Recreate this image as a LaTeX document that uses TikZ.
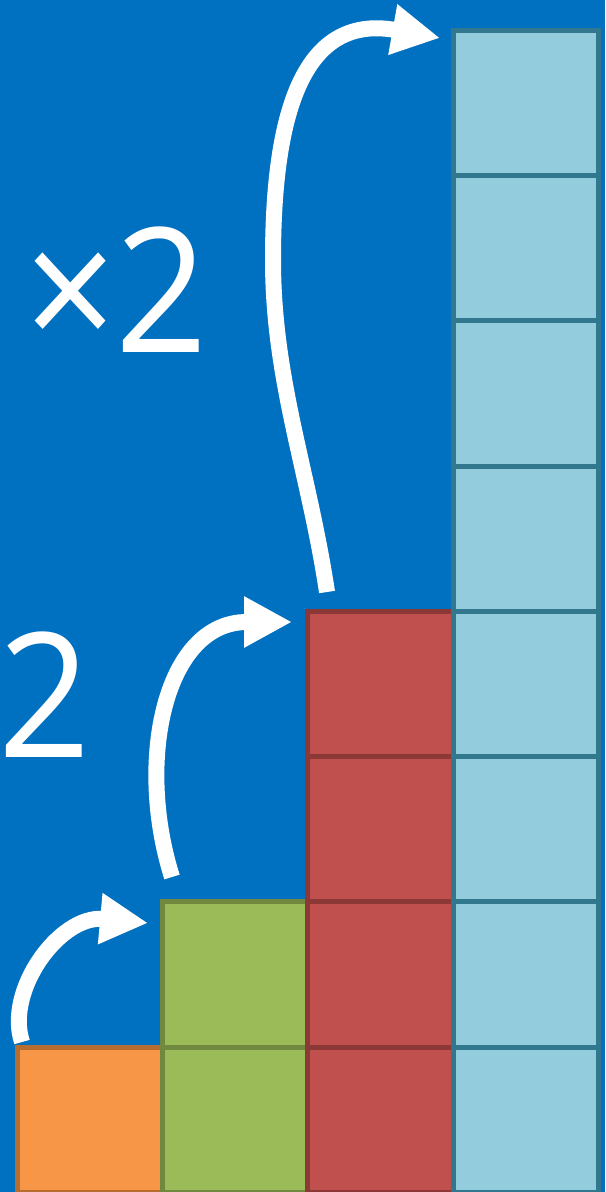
\documentclass[tikz,border=0pt]{standalone}
\usepackage{fontspec}
\setmainfont{Open Sans}
\newfontfamily\labelfont[FakeStretch=0.93]{Open Sans}
\usetikzlibrary{arrows.meta}
\definecolor{bgblue}{HTML}{0070C0}
\definecolor{orfill}{HTML}{F79646}
\definecolor{ordraw}{HTML}{B66D31}
\definecolor{grfill}{HTML}{9BBB59}
\definecolor{grdraw}{HTML}{71893F}
\definecolor{rdfill}{HTML}{C0504D}
\definecolor{rddraw}{HTML}{8C3836}
\definecolor{lbfill}{HTML}{93CDDD}
\definecolor{lbdraw}{HTML}{31788E}
\begin{document}
\begin{tikzpicture}[x=0.5pt,y=-0.5pt,
  sq/.style={draw, minimum size=72.6pt, inner sep=0pt, line width=2.5pt, outer sep=0pt},
  orsq/.style={sq, fill=orfill, draw=ordraw},
  grsq/.style={sq, fill=grfill, draw=grdraw},
  rdsq/.style={sq, fill=rdfill, draw=rddraw},
  lbsq/.style={sq, fill=lbfill, draw=lbdraw},
  bigarrow/.style={draw=white, line width=8pt, -{Triangle[length=24pt,width=24pt]}},
  txt/.style={text=white, inner sep=0pt, font=\labelfont\fontsize{86.8pt}{90pt}\selectfont}]
\useasboundingbox (0,0) rectangle (605,1192);
\clip (0,0) rectangle (605,1192);
\fill[bgblue] (0,0) rectangle (605,1192);
% squares
\node[orsq] (o0) at (90.1,1119.6) {};
\foreach \k in {0,1} {\node[grsq] (g\k) at (235.3,{1119.6-145.2*\k}) {};}
\foreach \k in {0,...,3} {\node[rdsq] (r\k) at (380.5,{1119.6-145.2*\k}) {};}
\foreach \k in {0,...,7} {\node[lbsq] (b\k) at (525.7,{1119.6-145.2*\k}) {};}
% arrows
\coordinate (a1s) at (22,1042);
\coordinate (a1e) at (148,923);
\coordinate (a2s) at (172,877);
\coordinate (a2e) at (292,622);
\coordinate (a3s) at (327,592);
\coordinate (a3m) at (273,260);
\coordinate (a3e) at (440,38);
\draw[bigarrow] (a1s) .. controls (5,990) and (60,915) .. (a1e);
\draw[bigarrow] (a2s) .. controls (135,760) and (165,622) .. (a2e);
\draw[bigarrow] (a3s) .. controls (309,472) and (273,380) .. (a3m)
   .. controls (273,120) and (300,13) .. (a3e);
% labels
\node[txt, anchor=base east] (t1) at (208,352) {×\kern-1pt 2};
\node[txt, anchor=base east] (t2) at (91,757) {2};
\end{tikzpicture}
\end{document}
